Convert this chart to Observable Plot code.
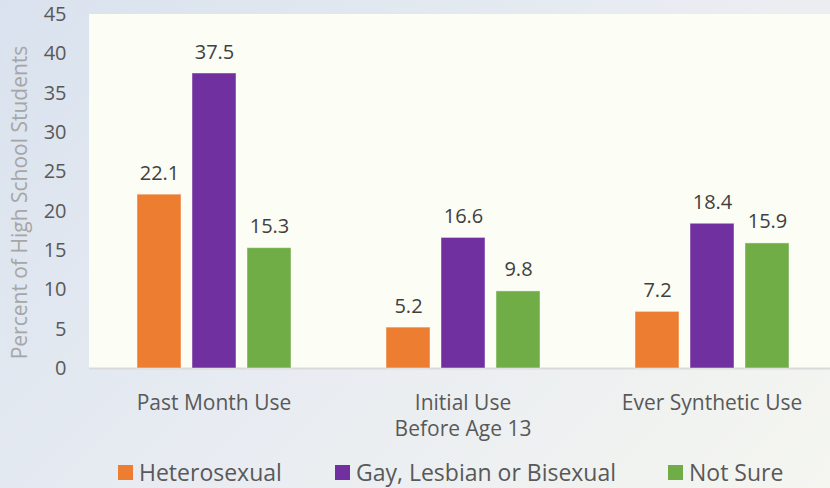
<!DOCTYPE html>
<html><head><meta charset="utf-8">
<script src="https://cdn.jsdelivr.net/npm/d3@7"></script>
<script src="https://cdn.jsdelivr.net/npm/@observablehq/plot@0.6"></script>
<style>
html,body{margin:0;padding:0;}
body{width:830px;height:488px;overflow:hidden;font-family:"Open Sans",sans-serif;}
#wrap{position:relative;width:830px;height:488px;overflow:hidden;background:linear-gradient(135deg,#D9E2EE 0%,#E8ECF2 50%,#F5F6F0 100%);}
#chart{position:absolute;left:0;top:0;width:837px;}
#legend{position:absolute;left:0;top:456px;width:830px;height:32px;font-size:23px;color:#595959;}
.item{position:absolute;top:0;height:32px;display:flex;align-items:center;white-space:nowrap;}
.sw{width:15px;height:15px;margin-right:6px;flex:none;}
</style></head><body>
<div id="wrap"><div id="chart"></div><div id="legend"></div></div>
<script>
const categories = ["Past Month Use", "Initial Use\nBefore Age 13", "Ever Synthetic Use"];
const series = ["Heterosexual", "Gay, Lesbian or Bisexual", "Not Sure"];
const heterosexual = [22.1, 5.2, 7.2];
const gayLesbianBisexual = [37.5, 16.6, 18.4];
const notSure = [15.3, 9.8, 15.9];
const colors = ["#ED7D31", "#7030A0", "#70AD47"];
const yTicks = [0, 5, 10, 15, 20, 25, 30, 35, 40, 45];
const yLabel = "Percent of High School Students";
const legendLeft = [118, 335, 668];

const data = [];
[heterosexual, gayLesbianBisexual, notSure].forEach((vals, si) =>
  vals.forEach((v, ci) => data.push({category: categories[ci], series: series[si], value: v})));

const plot = Plot.plot({
  width: 837, height: 448,
  marginLeft: 88, marginRight: 0, marginTop: 14, marginBottom: 80,
  style: {fontFamily: '"Open Sans", sans-serif', background: "transparent", overflow: "visible", maxWidth: "none"},
  fx: {domain: categories, padding: 0, label: null},
  x: {domain: series, paddingInner: 0.2, paddingOuter: 0.85, axis: null},
  y: {domain: [0, 45], label: null},
  color: {domain: series, range: colors},
  marks: [
    Plot.frame({fill: "#FCFDF5", stroke: "#FCFDF5", strokeWidth: 1, shapeRendering: "crispEdges"}),
    Plot.ruleY([0], {stroke: "#D9D9D9", strokeWidth: 2}),
    Plot.barY(data, {fx: "category", x: "series", y: "value", fill: "series", stroke: "#FFFFFF", strokeOpacity: 0.45, strokeWidth: 1}),
    Plot.text(data, {fx: "category", x: "series", y: "value", text: d => d.value.toFixed(1), lineAnchor: "bottom", dy: -15, fontSize: 20, fill: "#404040"}),
    Plot.axisY({ticks: yTicks, tickSize: 0, tickPadding: 23, fontSize: 20, fill: "#595959", label: null}),
    Plot.axisFx({anchor: "bottom", tickSize: 0, tickPadding: 24, fontSize: 21, lineHeight: 1.2, fill: "#595959", label: null}),
    Plot.text([yLabel], {fx: () => categories[0], text: d => d, frameAnchor: "left", textAnchor: "middle", rotate: -90, dx: -69, dy: 11, fontSize: 21, fill: "#A6A6A6", lineAnchor: "middle"})
  ]
});
document.getElementById("chart").appendChild(plot);

const legend = document.getElementById("legend");
series.forEach((s, i) => {
  const item = document.createElement("div");
  item.className = "item";
  item.style.left = legendLeft[i] + "px";
  const sw = document.createElement("span");
  sw.className = "sw";
  sw.style.background = colors[i];
  const t = document.createElement("span");
  t.textContent = s;
  item.appendChild(sw); item.appendChild(t);
  legend.appendChild(item);
});
</script>
</body></html>
